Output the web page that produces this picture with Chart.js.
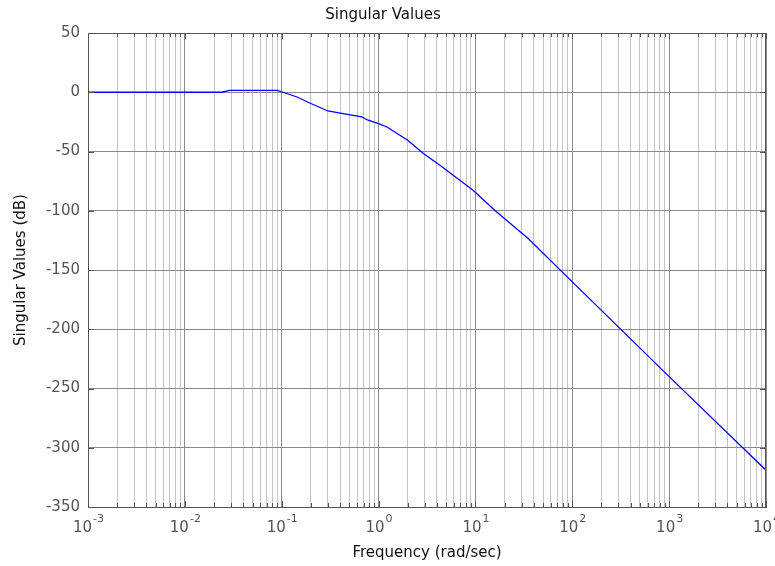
<!DOCTYPE html>
<html>
  <head>
    <script src="https://cdn.jsdelivr.net/npm/chart.js@4"></script>
    <style>
      body { margin: 0; background: #fff; }
    </style>
  </head>

  <body>
    <div style="width: 775px; height: 566px">
      <canvas id="canvas" width="775" height="566"></canvas>
    </div>
    <script>
      // frequency response samples (rad/sec -> dB)
      const freqs = [0.001, 0.024, 0.029, 0.09, 0.103, 0.144, 0.2, 0.3, 0.43, 0.67, 0.78, 1.0, 1.22, 2.0, 2.9, 4.3, 6.9, 9.45, 15.8, 35, 100, 1000, 10000];
      const singularDb = [0, 0, 1.5, 1.5, 0, -4, -9.5, -15.8, -18, -20.8, -23.6, -26.4, -29.3, -40.5, -51.7, -61.6, -74.3, -82.7, -99.6, -123.5, -160, -240, -319];

      const decades = [-3, -2, -1, 0, 1, 2, 3, 4];
      const yMin = -350, yMax = 50, yStep = 50;

      const FONT = 'DejaVu Sans';
      const frameColor = '#555555';
      const majorGrid = '#8a8a8a';
      const minorGrid = '#c4c4c4';

      const isDecade = (v) => {
        const l = Math.log10(v);
        return Math.abs(l - Math.round(l)) < 1e-9;
      };

      // box, inward ticks and 10^n labels
      const matlabAxes = {
        id: 'matlabAxes',
        afterDraw(chart) {
          const { ctx, chartArea: a, scales } = chart;
          const xs = scales.x, ys = scales.y;
          ctx.save();
          ctx.strokeStyle = frameColor;
          ctx.lineWidth = 1;
          ctx.beginPath();
          ctx.moveTo(a.left, a.top + 0.5);
          ctx.lineTo(a.right, a.top + 0.5);
          ctx.moveTo(a.right - 0.5, a.top);
          ctx.lineTo(a.right - 0.5, a.bottom);
          xs.ticks.forEach((t) => {
            const px = Math.round(xs.getPixelForValue(t.value)) + 0.5;
            const len = isDecade(t.value) ? 6 : 4;
            ctx.moveTo(px, a.top);
            ctx.lineTo(px, a.top + len);
            ctx.moveTo(px, a.bottom);
            ctx.lineTo(px, a.bottom - len);
          });
          ys.ticks.forEach((t) => {
            const py = Math.round(ys.getPixelForValue(t.value)) + 0.5;
            ctx.moveTo(a.left, py);
            ctx.lineTo(a.left + 6, py);
            ctx.moveTo(a.right, py);
            ctx.lineTo(a.right - 6, py);
          });
          ctx.stroke();

          ctx.fillStyle = '#555555';
          ctx.textBaseline = 'middle';
          ctx.textAlign = 'left';
          decades.forEach((e) => {
            const px = xs.getPixelForValue(Math.pow(10, e));
            ctx.font = '15px "' + FONT + '"';
            const wBase = ctx.measureText('10').width;
            ctx.font = '11px "' + FONT + '"';
            const exp = e < 0 ? '-' + Math.abs(e) : String(e);
            const wExp = ctx.measureText(exp).width;
            const x0 = px - (wBase + wExp) / 2;
            ctx.font = '15px "' + FONT + '"';
            ctx.fillText('10', x0, a.bottom + 21);
            ctx.font = '11px "' + FONT + '"';
            ctx.fillText(exp, x0 + wBase + 1, a.bottom + 12);
          });
          ctx.restore();
        },
      };

      Chart.defaults.font.family = FONT;
      Chart.defaults.font.size = 15;

      new Chart(document.getElementById('canvas').getContext('2d'), {
        type: 'line',
        data: {
          datasets: [
            {
              data: freqs.map((f, i) => ({ x: f, y: singularDb[i] })),
              borderColor: '#0000ff',
              borderWidth: 1.3,
              pointRadius: 0,
              tension: 0,
              fill: false,
            },
          ],
        },
        options: {
          responsive: false,
          animation: false,
          layout: { padding: { left: 0, top: 0, right: 9, bottom: 0 } },
          plugins: {
            legend: { display: false },
            tooltip: { enabled: false },
            title: {
              display: true,
              text: 'Singular Values',
              color: '#111111',
              font: { size: 15, weight: 'normal' },
              padding: { top: 6, bottom: 9 },
            },
          },
          scales: {
            x: {
              type: 'logarithmic',
              min: 1e-3,
              max: 1e4,
              afterBuildTicks(scale) {
                const ticks = [];
                decades.forEach((e) => {
                  for (let m = 1; m <= 9; m++) {
                    const v = m * Math.pow(10, e);
                    if (v <= 1e4 * 1.0000001) ticks.push({ value: v });
                  }
                });
                scale.ticks = ticks;
              },
              afterFit(scale) {
                scale.height = 59;
              },
              ticks: { display: false },
              grid: {
                drawTicks: false,
                color: (c) => (c.tick && isDecade(c.tick.value) ? majorGrid : minorGrid),
              },
              border: { display: true, color: frameColor },
              title: {
                display: true,
                text: 'Frequency (rad/sec)',
                color: '#111111',
                font: { size: 15 },
                padding: { top: 0, bottom: 4 },
              },
            },
            y: {
              min: yMin,
              max: yMax,
              ticks: { stepSize: yStep, color: '#555555', padding: 8 },
              afterFit(scale) {
                scale.width = 88;
              },
              grid: { drawTicks: false, color: majorGrid },
              border: { display: true, color: frameColor },
              title: {
                display: true,
                text: 'Singular Values (dB)',
                color: '#111111',
                font: { size: 15 },
                padding: { top: 12, bottom: 0 },
              },
            },
          },
        },
        plugins: [matlabAxes],
      });
    </script>
  </body>
</html>
